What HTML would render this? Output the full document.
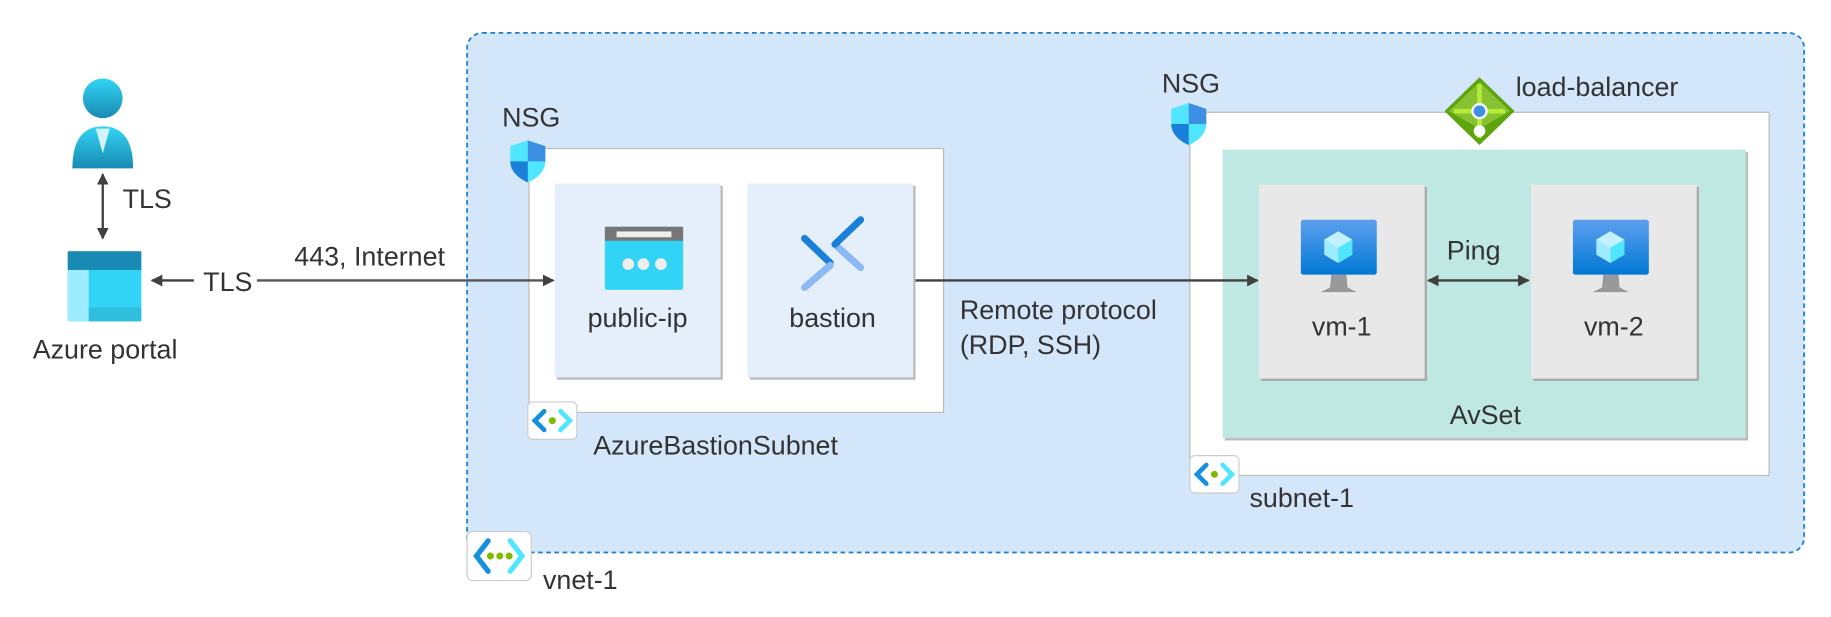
<!DOCTYPE html>
<html><head><meta charset="utf-8"><style>
html,body{margin:0;padding:0;background:#fff;width:1831px;height:617px;overflow:hidden}
svg{display:block}
text{font-family:"Liberation Sans",sans-serif;fill:#333;font-size:23px}
</style></head><body>
<svg width="1831" height="617" viewBox="0 0 1568 528" xmlns="http://www.w3.org/2000/svg">
<defs>
<marker id="ah" markerWidth="10" markerHeight="10" refX="9" refY="5" orient="auto-start-reverse" markerUnits="userSpaceOnUse"><path d="M0,0 L10,5 L0,10 z" fill="#404040"/></marker>
<linearGradient id="vmg" x1="0" y1="0" x2="0" y2="1"><stop offset="0" stop-color="#5ea0ef"/><stop offset="1" stop-color="#0078d4"/></linearGradient>
<linearGradient id="pg" x1="0" y1="0" x2="0" y2="1"><stop offset="0" stop-color="#32d4f5"/><stop offset="1" stop-color="#198ab3"/></linearGradient>
<g id="vm">
<rect x="0" y="0" width="65" height="47" rx="2" fill="url(#vmg)"/>
<polygon points="32,10 44,17 44,30 32,37 20,30 20,17" fill="#9cebff"/>
<polygon points="32,10 44,17 32,24 20,17" fill="#c3f1ff"/>
<polygon points="32,24 44,17 44,30 32,37" fill="#50e6ff"/>
<path d="M26,47 L39,47 L40,58 L48,62 L17,62 L25,58 z" fill="#999"/>
</g>
<g id="snet">
<rect x="0" y="0" width="42" height="32" rx="4" fill="#fff" stroke="#ccc"/>
<path d="M14,8 L6,16 L14,24" stroke="#1490df" stroke-width="4" fill="none" stroke-linecap="round"/>
<path d="M28,8 L36,16 L28,24" stroke="#50e6ff" stroke-width="4" fill="none" stroke-linecap="round"/>
<circle cx="21" cy="16" r="3" fill="#7fba00"/>
</g>
<g id="shield">
<path d="M15,0 L30,5 L30,18 C30,27 22,33 15,36 C8,33 0,27 0,18 L0,5 z" fill="#50e6ff"/>
<path d="M15,0 L30,5 L30,18 L15,18 z" fill="#3d8fe3"/>
<path d="M0,18 L15,18 L15,36 C8,33 0,27 0,18 z" fill="#1a7fd8"/>
</g>
</defs>

<rect x="400" y="28" width="1145" height="445" rx="13" fill="#d3e6fa" stroke="#1a7fd8" stroke-width="1.5" stroke-dasharray="4,3"/>

<circle cx="88" cy="84" r="17" fill="url(#pg)"/>
<path d="M62,144 C62,115 75,108 88,108 C101,108 114,115 114,144 z" fill="url(#pg)"/>
<path d="M82,110 L88,131 L94,110 z" fill="#d3f4fb"/>
<line x1="88" y1="149" x2="88" y2="204" stroke="#404040" stroke-width="2" marker-start="url(#ah)" marker-end="url(#ah)"/>
<text x="105" y="178">TLS</text>

<rect x="58" y="215" width="63" height="60" rx="2" fill="#32d4f5"/>
<rect x="58" y="215" width="63" height="16" fill="#198ab3"/>
<rect x="58" y="231" width="18" height="44" fill="#9cebff"/>
<rect x="76" y="263" width="45" height="12" fill="#2fbfdd"/>
<text x="90" y="307" text-anchor="middle">Azure portal</text>
<text x="174" y="249">TLS</text>
<text x="252" y="227">443, Internet</text>

<text x="430" y="108">NSG</text>
<rect x="453" y="127" width="355" height="226" fill="#fff" stroke="#bbb" stroke-width="1"/>
<use href="#shield" x="437" y="120"/>
<rect x="477" y="159" width="142" height="166" fill="#bbb"/>
<rect x="475" y="157" width="142" height="166" fill="#e4effb"/>
<rect x="642" y="159" width="142" height="166" fill="#bbb"/>
<rect x="640" y="157" width="142" height="166" fill="#e4effb"/>
<rect x="518" y="194" width="67" height="54" rx="2" fill="#32d4f5"/>
<rect x="518" y="194" width="67" height="12" fill="#767676"/>
<rect x="528" y="198" width="47" height="5" fill="#eee"/>
<circle cx="538" cy="226" r="5" fill="#eee"/><circle cx="551" cy="226" r="5" fill="#eee"/><circle cx="566" cy="226" r="5" fill="#eee"/>
<text x="546" y="280" text-anchor="middle">public-ip</text>
<g stroke-width="6" stroke-linecap="round">
<line x1="689" y1="204" x2="711" y2="225" stroke="#1a7fd8"/>
<line x1="711" y1="227" x2="689" y2="246" stroke="#8ab9f5"/>
<line x1="717" y1="211" x2="737" y2="229" stroke="#8ab9f5"/>
<line x1="715" y1="209" x2="737" y2="188" stroke="#1a7fd8"/>
</g>
<text x="713" y="280" text-anchor="middle">bastion</text>
<use href="#snet" x="452" y="344"/>
<text x="508" y="389">AzureBastionSubnet</text>

<text x="822" y="273">Remote protocol</text>
<text x="822" y="303">(RDP, SSH)</text>

<text x="995" y="79">NSG</text>
<rect x="1019" y="96" width="496" height="311" fill="#fff" stroke="#bbb"/>
<use href="#shield" x="1003" y="88"/>
<rect x="1049" y="130" width="448" height="247" fill="#bbb"/>
<rect x="1047" y="128" width="448" height="247" fill="#bfe8e2"/>
<rect x="1080" y="160" width="142" height="166" fill="#aaa"/>
<rect x="1078" y="158" width="142" height="166" fill="#e8e8e8"/>
<rect x="1313" y="160" width="142" height="166" fill="#aaa"/>
<rect x="1311" y="158" width="142" height="166" fill="#e8e8e8"/>
<use href="#vm" x="1114" y="188"/>
<use href="#vm" x="1347" y="188"/>
<text x="1149" y="287" text-anchor="middle">vm-1</text>
<text x="1382" y="287" text-anchor="middle">vm-2</text>
<text x="1262" y="222" text-anchor="middle">Ping</text>
<text x="1272" y="363" text-anchor="middle">AvSet</text>
<polygon points="1267,66 1297,95 1267,124 1237,95" fill="#5ea40f"/>
<polygon points="1267,70 1293,95 1267,110 1241,95" fill="#86c232"/>
<path d="M1267,72 L1267,118 M1245,95 L1289,95" stroke="#b4ec36" stroke-width="4"/>
<circle cx="1267" cy="95" r="7" fill="#fff"/><circle cx="1267" cy="95" r="5" fill="#3d8fe3"/>
<circle cx="1267" cy="112" r="5" fill="#fff"/>
<text x="1298" y="82">load-balancer</text>
<use href="#snet" x="1019" y="390"/>
<text x="1070" y="434">subnet-1</text>

<line x1="166" y1="240" x2="130" y2="240" stroke="#404040" stroke-width="2" marker-end="url(#ah)"/>
<line x1="220" y1="240" x2="474" y2="240" stroke="#555" stroke-width="2" marker-end="url(#ah)"/>
<line x1="784" y1="240" x2="1077" y2="240" stroke="#404040" stroke-width="2" marker-end="url(#ah)"/>
<line x1="1223" y1="240" x2="1309" y2="240" stroke="#404040" stroke-width="2" marker-start="url(#ah)" marker-end="url(#ah)"/>

<rect x="400" y="455" width="55" height="42" rx="5" fill="#fff" stroke="#ccc"/>
<path d="M418,463 L408,476 L418,489" stroke="#1490df" stroke-width="4.5" fill="none" stroke-linecap="round"/>
<path d="M437,463 L447,476 L437,489" stroke="#50e6ff" stroke-width="4.5" fill="none" stroke-linecap="round"/>
<circle cx="420" cy="476" r="3" fill="#7fba00"/><circle cx="428" cy="476" r="3" fill="#7fba00"/><circle cx="436" cy="476" r="3" fill="#7fba00"/>
<text x="465" y="504">vnet-1</text>
</svg>
</body></html>
